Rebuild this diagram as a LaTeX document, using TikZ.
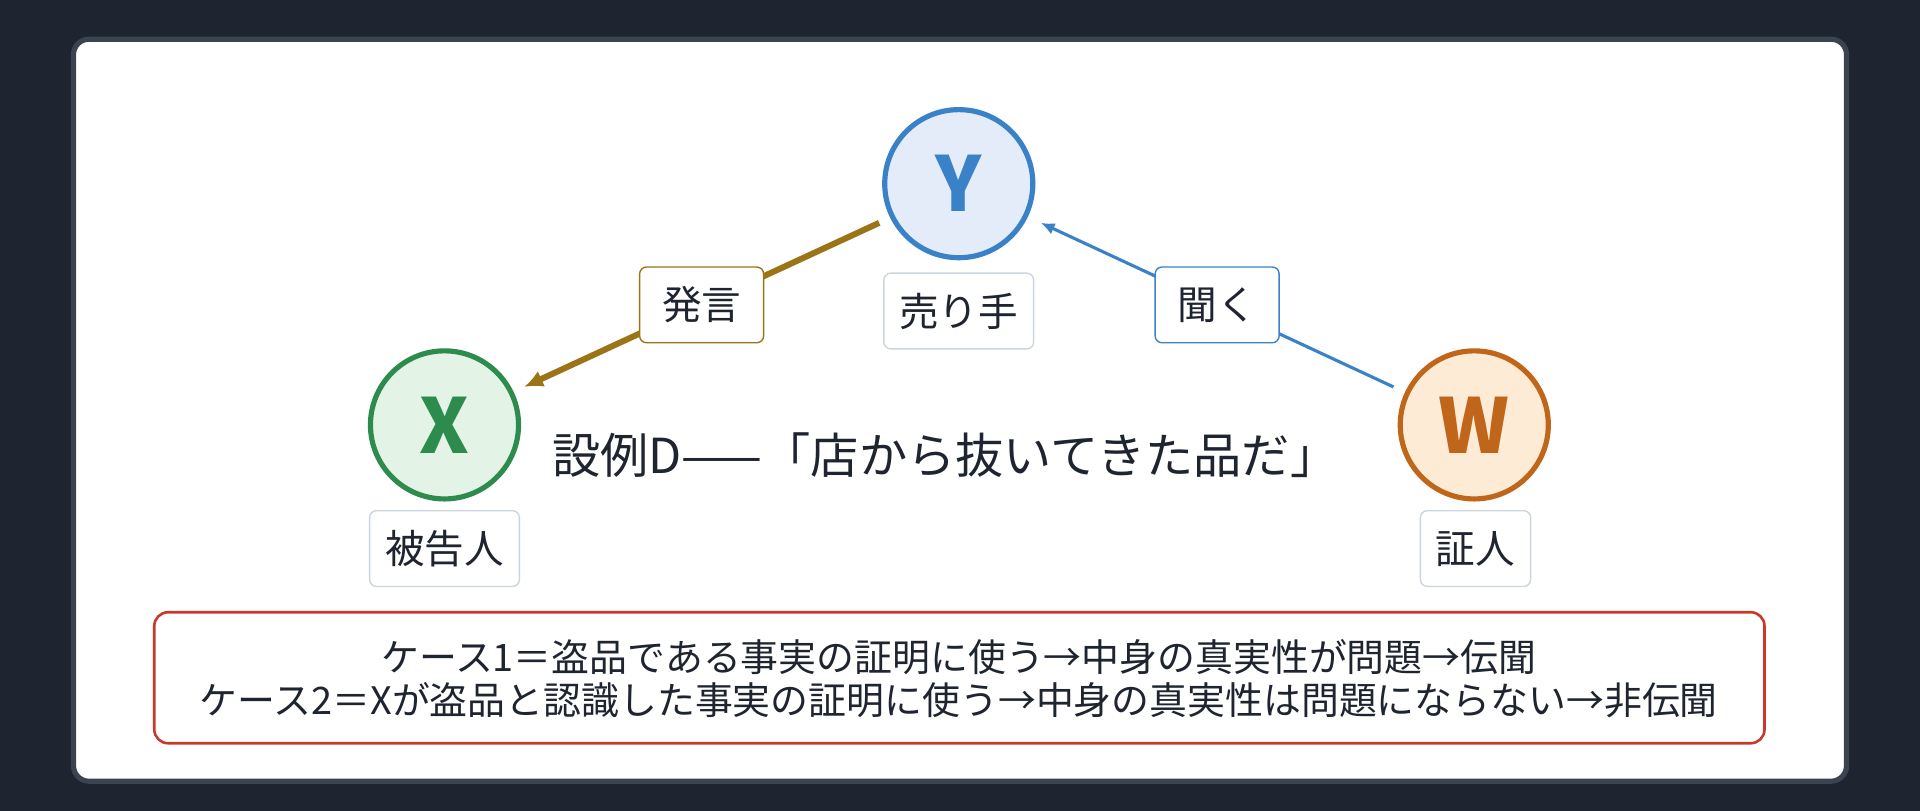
\documentclass[tikz,border=0pt]{standalone}
\usepackage{fontspec}
\setmainfont{Noto Sans CJK JP}
\usetikzlibrary{positioning, arrows.meta}

\definecolor{pagebg}{HTML}{1E2530}
\definecolor{cardline}{HTML}{3A4350}
\definecolor{inkdark}{HTML}{1F2530}
\definecolor{boxline}{HTML}{CBD5E0}
\definecolor{yblue}{HTML}{3A82C8}
\definecolor{yfill}{HTML}{E3ECF8}
\definecolor{xgreen}{HTML}{2E8B4E}
\definecolor{xfill}{HTML}{E3F4E6}
\definecolor{worange}{HTML}{C0661A}
\definecolor{wfill}{HTML}{FDEBD6}
\definecolor{saybrown}{HTML}{9C7418}
\definecolor{notered}{HTML}{C8392B}

\tikzset{
    person/.style={circle, minimum size=86pt, line width=3pt, font=\fontsize{44}{44}\selectfont\bfseries},
    role/.style={draw=boxline, line width=0.8pt, fill=white, rounded corners=4pt,
        minimum height=44pt, inner xsep=9pt, font=\fontsize{23}{23}\selectfont, text=inkdark},
    act/.style={role, minimum width=72pt},
}

\begin{document}
\begin{tikzpicture}[x=0.025cm, y=-0.025cm]
    % background and card
    \fill[pagebg] (0,0) rectangle (1568,662);
    \useasboundingbox (0,0) rectangle (1568,662);
    \draw[cardline, line width=3pt, fill=white, rounded corners=9pt] (60,32) rectangle (1508,638);

    % persons
    \node[person, draw=yblue, fill=yfill, text=yblue] (Y) at (783,150) {Y};
    \node[person, draw=xgreen, fill=xfill, text=xgreen] (X) at (363,347) {X};
    \node[person, draw=worange, fill=wfill, text=worange] (W) at (1204,347) {W};

    \node[role] (Yrole) at (783,254) {売り手};
    \node[role] (Xrole) at (363,448) {被告人};
    \node[role] (Wrole) at (1205,448) {証人};

    % statements
    \coordinate (saystart) at (718,182);
    \coordinate (sayend) at (428,316);
    \coordinate (hearstart) at (1138,316);
    \coordinate (hearend) at (850,182);
    \draw[saybrown, line width=3.5pt, -{Latex[length=11pt, width=10pt]}] (saystart) -- (sayend);
    \draw[yblue, line width=1.8pt, -{Latex[length=8pt, width=7pt]}] (hearstart) -- (hearend);
    \node[act, draw=saybrown] (say) at (573,249) {発言};
    \node[act, draw=yblue] (hear) at (994,249) {聞く};

    % title
    \node[font=\fontsize{28}{28}\selectfont, text=inkdark] (title) at (772,372)
        {設例D——「店から抜いてきた品だ」};

    % note
    \draw[notered, line width=1.5pt, fill=white, rounded corners=8pt] (126,500) rectangle (1441,607);
    \node[font=\fontsize{22}{22}\selectfont, text=inkdark, align=center] (note) at (783,554)
        {ケース1＝盗品である事実の証明に使う→中身の真実性が問題→伝聞\\[3pt]
         ケース2＝Xが盗品と認識した事実の証明に使う→中身の真実性は問題にならない→非伝聞};
\end{tikzpicture}
\end{document}
